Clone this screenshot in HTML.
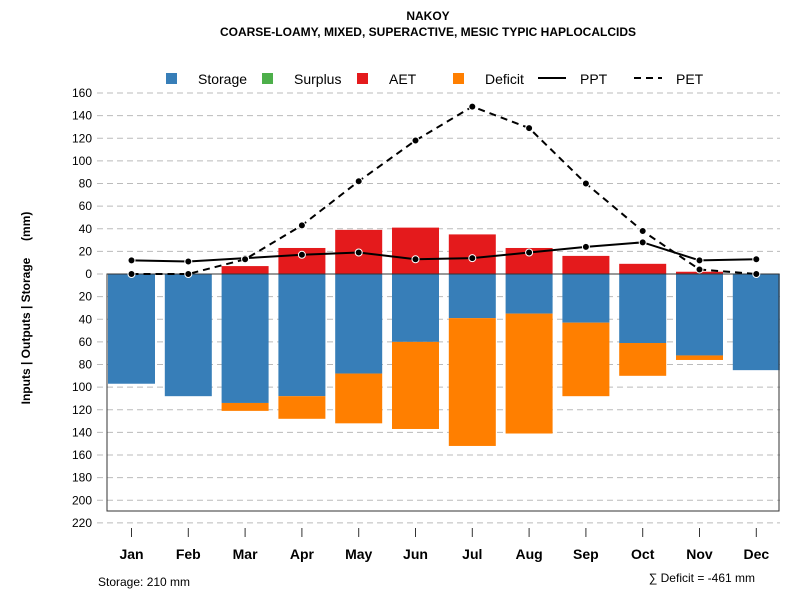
<!DOCTYPE html>
<html><head><meta charset="utf-8"><style>body{margin:0;background:#fff}svg{font-family:"Liberation Sans",sans-serif}</style></head>
<body>
<svg id="c" width="800" height="600">
<text x="428" y="20" text-anchor="middle" font-size="12" font-weight="bold">NAKOY</text>
<text x="428" y="36" text-anchor="middle" font-size="12" font-weight="bold">COARSE-LOAMY, MIXED, SUPERACTIVE, MESIC TYPIC HAPLOCALCIDS</text>
<g>
<rect x="166" y="73" width="11" height="11" fill="#377eb8"/><text x="198" y="84" font-size="14">Storage</text>
<rect x="262" y="73" width="11" height="11" fill="#4daf4a"/><text x="294" y="84" font-size="14">Surplus</text>
<rect x="357" y="73" width="11" height="11" fill="#e41a1c"/><text x="389" y="84" font-size="14">AET</text>
<rect x="453" y="73" width="11" height="11" fill="#ff7f00"/><text x="485" y="84" font-size="14">Deficit</text>
<line x1="538" y1="78" x2="566" y2="78" stroke="#000" stroke-width="2"/><text x="580" y="84" font-size="14">PPT</text>
<line x1="634" y1="78" x2="662" y2="78" stroke="#000" stroke-width="2" stroke-dasharray="7,5"/><text x="676" y="84" font-size="14">PET</text>
</g>
<g id="grid"></g><g id="bars"></g>
<rect x="107" y="274" width="672" height="237" fill="none" stroke="#333" stroke-width="1"/>
<g id="lines"></g><g id="axes"></g>
<text x="30" y="308" transform="rotate(-90 30 308)" text-anchor="middle" font-size="12" font-weight="bold">Inputs | Outputs | Storage &#160;&#160;&#160;&#160;(mm)</text>
<text x="98" y="586" font-size="12">Storage: 210 mm</text>
<text x="755" y="582" text-anchor="end" font-size="12">∑ Deficit = -461 mm</text>
</svg>
<script>
const months=["Jan","Feb","Mar","Apr","May","Jun","Jul","Aug","Sep","Oct","Nov","Dec"];
const storage=[97,108,114,108,88,60,39,35,43,61,72,85];
const deficit=[0,0,7,20,44,77,113,106,65,29,4,0];
const aet=[0,0,7,23,39,41,35,23,16,9,2,0];
const ppt=[12,11,14,17,19,13,14,19,24,28,12,13];
const pet=[0,0,13,43,82,118,148,129,80,38,4,0];
const yTicks=[160,140,120,100,80,60,40,20,0,20,40,60,80,100,120,140,160,180,200,220];
const NS="http://www.w3.org/2000/svg";
const y=v=>274-v*1.13125;
const x=i=>131.5+i*56.8;
function mk(t,a,p){const e=document.createElementNS(NS,t);for(const k in a)e.setAttribute(k,a[k]);document.getElementById(p).appendChild(e);return e;}
yTicks.forEach((t,i)=>{const v=i<=8?t:-t;
 const g=mk("line",{x1:97,x2:780,y1:y(v),y2:y(v),stroke:"#bbb","stroke-dasharray":"6,4"},"grid");
 
 
 const l=mk("text",{x:92,y:y(v)+4,"text-anchor":"end","font-size":12},"axes");l.textContent=t;
 
 
});
months.forEach((m,i)=>{const w=47,xl=x(i)-w/2;
 const s=mk("rect",{x:xl,y:y(0),width:w,height:storage[i]*1.13125,fill:"#377eb8"},"bars");
 
 
 if(deficit[i]>0){const d=mk("rect",{x:xl,y:y(-storage[i]),width:w,height:deficit[i]*1.13125,fill:"#ff7f00"},"bars");
 
 }
 if(aet[i]>0){const a=mk("rect",{x:xl,y:y(aet[i]),width:w,height:aet[i]*1.13125,fill:"#e41a1c"},"bars");
 
 }
 const tk=mk("line",{x1:x(i),x2:x(i),y1:528,y2:537,stroke:"#333"},"axes");
 
 
 const lb=mk("text",{x:x(i),y:559,"text-anchor":"middle","font-size":14,"font-weight":"bold"},"axes");lb.textContent=m;
 
 
});
function series(arr,name,dash){
 const p=mk("polyline",{points:arr.map((v,i)=>x(i)+","+y(v)).join(" "),fill:"none",stroke:"#000","stroke-width":2,"stroke-dasharray":dash},"lines");
 
 
 arr.forEach((v,i)=>{const c=mk("circle",{cx:x(i),cy:y(v),r:3.5,fill:"#000",stroke:"#fff","stroke-width":1},"lines");
 
 });
}
series(ppt,"ppt","none");series(pet,"pet","7,5");
</script>
</body></html>
